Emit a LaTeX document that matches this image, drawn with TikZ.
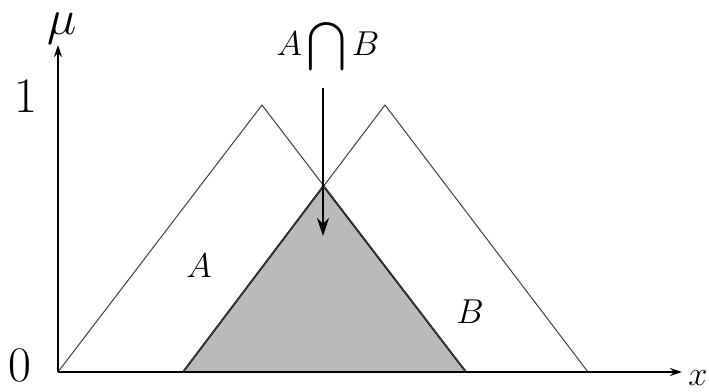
\documentclass[tikz,border=0pt]{standalone}
\usepackage{amsmath}
\usetikzlibrary{arrows.meta}
\begin{document}
\begin{tikzpicture}[x=0.5pt,y=-0.5pt,
  lbl/.style={font=\fontsize{18}{21}\selectfont, inner sep=0pt, anchor=base},
  big/.style={font=\fontsize{24}{26}\selectfont, inner sep=0pt, anchor=base},
  thin tri/.style={draw=black!75, line width=0.5pt},
  cut/.style={draw=black, line width=0.9pt, fill=black!27},
  axis/.style={draw=black, line width=1pt, -{Stealth[length=6pt,width=4pt]}}]
\useasboundingbox (0,0) rectangle (709,392);
% vertices
\coordinate (O) at (58,372);
\coordinate (ytop) at (58,45);
\coordinate (xend) at (682,372);
\coordinate (Apk) at (262,105);
\coordinate (Ar) at (466,372);
\coordinate (Bl) at (183,372);
\coordinate (Bpk) at (385,105);
\coordinate (Br) at (588,372);
\coordinate (X) at (323.5,186);
% shaded intersection
\draw[cut] (Bl) -- (X) -- (Ar) -- cycle;
% membership functions
\draw[thin tri] (O) -- (Apk) -- (Ar);
\draw[thin tri] (Bl) -- (Bpk) -- (Br);
% axes
\draw[axis] (O) -- (ytop);
\draw[axis] (O) -- (xend);
% labels
\node[big] (mu) at (62,34) {$\mu$};
\node[big] (one) at (26,112) {$1$};
\node[big] (zero) at (20,381) {$0$};
\node[lbl] (xl) at (698,385) {$x$};
\node[lbl] (la) at (199,277) {$A$};
\node[lbl] (lb) at (470,323) {$B$};
\node[lbl] (lab) at (328,55) {$\displaystyle A\bigcap B$};
\coordinate (arrS) at (323,88);
\coordinate (arrE) at (323,236);
\draw[line width=1pt, -{Stealth[length=9pt,width=6pt]}] (arrS) -- (arrE);
\end{tikzpicture}
\end{document}
